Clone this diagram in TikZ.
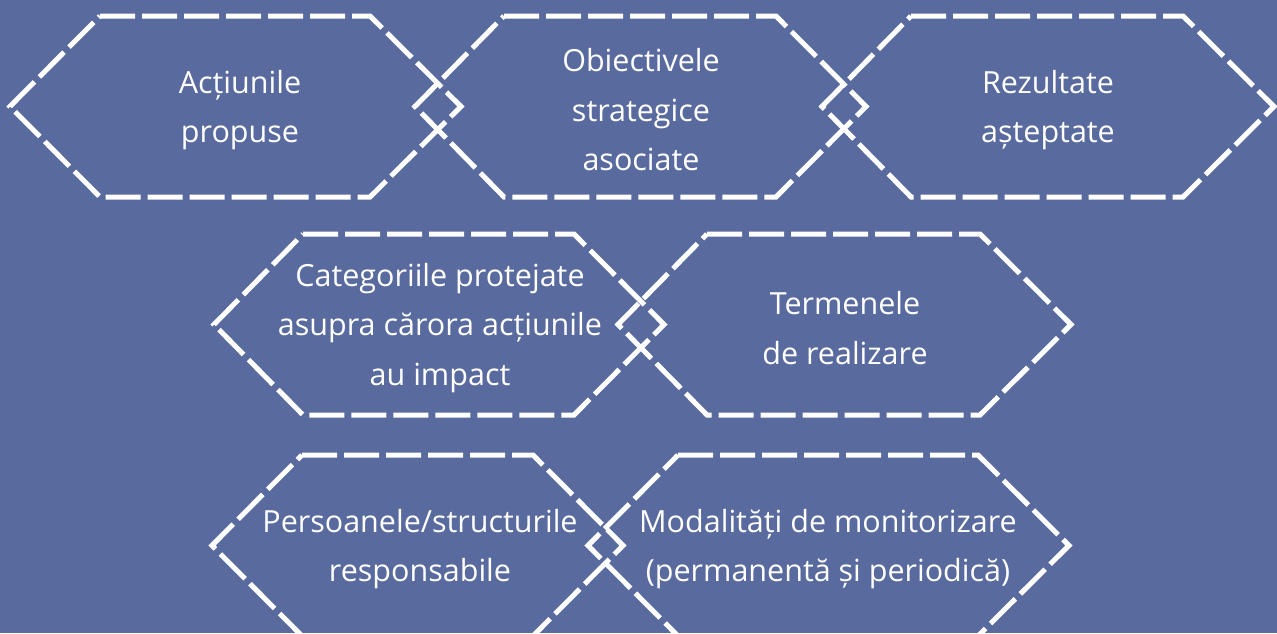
\documentclass[tikz,border=0pt]{standalone}
\usepackage{fontspec}
\setmainfont{Open Sans}[Ligatures={CommonOff}]
\definecolor{bgblue}{RGB}{89,106,158}
\tikzset{
  hexline/.style={draw=white, line width=5pt, dash pattern=on 35pt off 7pt, line join=miter},
  lbl/.style={text=white, align=center, font=\fontsize{30.5}{49.5}\selectfont, inner sep=0pt}
}
% #1 left point x, #2 top-left x, #3 top-right x, #4 right point x, #5 centre y
\newcommand{\hexshape}[5]{%
  \draw[hexline] (#2,#5-90.5) -- (#3,#5-90.5) -- (#4,#5) -- (#3,#5+90.5) -- (#2,#5+90.5) -- (#1,#5) -- cycle;}
\begin{document}
\begin{tikzpicture}[x=1pt,y=-1pt]
\useasboundingbox (0,0) rectangle (1277,633);
\fill[bgblue] (0,0) rectangle (1277,633);
\begin{scope}
\clip (0,0) rectangle (1277,633);
\hexshape{10}{100}{370}{461}{106.5}
\hexshape{415}{504}{776}{866}{106.5}
\hexshape{822}{911}{1183}{1274}{106.5}
\hexshape{214}{303}{574}{664}{324.5}
\hexshape{618}{707}{980}{1071}{324.5}
\hexshape{212}{302}{533}{623}{545.5}
\hexshape{588}{678}{978}{1069}{545.5}
\end{scope}
\node[lbl] (t1) at (240,110) {Acțiunile\\propuse};
\node[lbl] (t2) at (641,110) {Obiectivele\\strategice\\asociate};
\node[lbl] (t3) at (1048,110) {Rezultate\\așteptate};
\node[lbl] (t4) at (440,328) {Categoriile protejate\\asupra cărora acțiunile\\au impact};
\node[lbl] (t5) at (845,328) {Termenele\\de realizare};
\node[lbl] (t6) at (420,549) {Persoanele/structurile\\responsabile};
\node[lbl] (t7) at (828,549) {Modalități de monitorizare\\(permanentă și periodică)};
\end{tikzpicture}
\end{document}
